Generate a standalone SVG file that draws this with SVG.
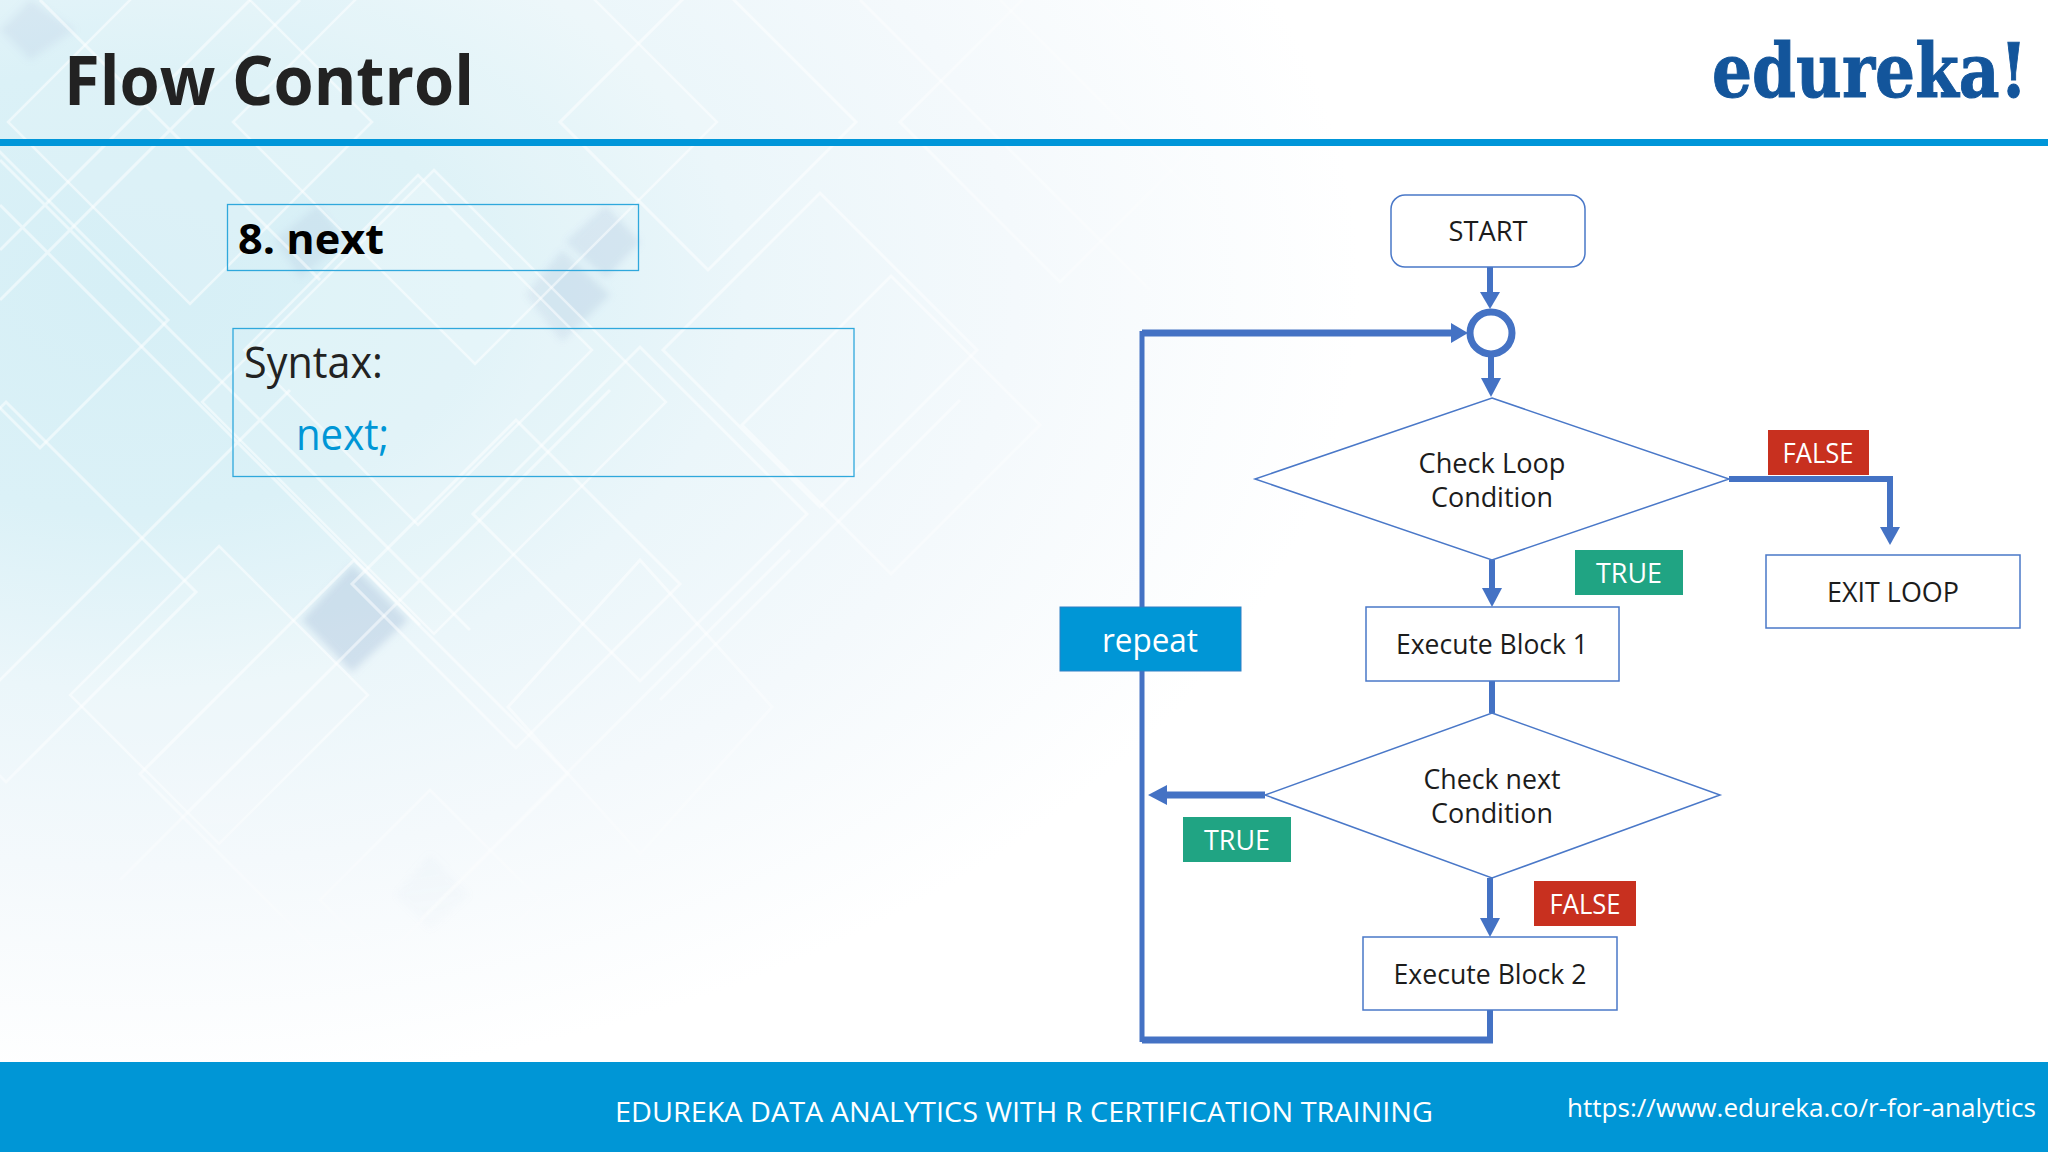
<svg xmlns="http://www.w3.org/2000/svg" width="2048" height="1152" viewBox="0 0 2048 1152">
<style>
text{font-family:"Open Sans","Noto Sans","DejaVu Sans",sans-serif}
.n{fill:#fff;stroke:#4a78c8;stroke-width:1.5}
.t{font-size:27px;fill:#1c1c1c;text-anchor:middle}
.w{font-size:27px;fill:#fff;text-anchor:middle}
.c{fill:none;stroke:#4472c4;stroke-width:6}
.v{fill:none;stroke:#4472c4;stroke-width:5}
.k{fill:none;stroke:#4472c4;stroke-width:7}
.h{fill:#4472c4;stroke:none}
.b{fill:none;stroke:#2fa8dc;stroke-width:1.3}
.d{fill:none;stroke:#fff;stroke-width:3;stroke-opacity:.5}
.e{fill:#fff;fill-opacity:.1;stroke:#fff;stroke-width:2.5;stroke-opacity:.5}
</style>
<defs>
<radialGradient id="bg" gradientUnits="userSpaceOnUse" cx="0" cy="0" r="1" gradientTransform="translate(130 290) scale(1230 800)">
<stop offset="0" stop-color="#d6eff6"/>
<stop offset=".28" stop-color="#dbf1f7"/>
<stop offset=".5" stop-color="#ebf6fa"/>
<stop offset=".72" stop-color="#f4f9fc"/>
<stop offset="1" stop-color="#fff"/>
</radialGradient>
<radialGradient id="fade" gradientUnits="userSpaceOnUse" cx="0" cy="0" r="1" gradientTransform="translate(200 280) scale(1180 760)">
<stop offset="0" stop-color="#fff"/>
<stop offset=".6" stop-color="#fff"/>
<stop offset="1" stop-color="#000"/>
</radialGradient>
<mask id="m"><rect width="2048" height="1152" fill="url(#fade)"/></mask>
<filter id="s" x="-30%" y="-30%" width="160%" height="160%"><feGaussianBlur stdDeviation="3.500"/></filter>
</defs>
<rect width="2048" height="1152" fill="#fff"/>
<rect width="2048" height="1062" fill="url(#bg)"/>
<g id="lattice" mask="url(#m)">
<g filter="url(#s)" fill="#a9c0dc">
<polygon points="352,565 408,620 352,672 302,620" fill-opacity=".42"/>
<polygon points="562,250 610,295 562,342 525,295" fill-opacity=".3"/>
<polygon points="606,205 640,242 606,278 565,242" fill-opacity=".28"/>
<polygon points="318,205 345,240 300,278 275,240" fill-opacity=".22"/>
<polygon points="30,0 75,30 30,60 0,30" fill-opacity=".2"/>
<polygon points="430,855 470,895 430,930 395,895" fill-opacity=".1"/>
</g>
<polygon class="e" points="418,175 592,350 418,525 244,350"/>
<polygon class="e" points="475,-120 717,122 475,364 233,122"/>
<polygon class="e" points="190,-60 372,122 190,304 8,122"/>
<polygon class="d" points="-40,112 168,320 40,448 -168,240"/>
<polygon class="e" points="434,170 666,402 434,634 202,402"/>
<polygon class="d" points="6,402 196,592 6,782 -184,592"/>
<polygon class="e" points="219,546 368,695 219,844 70,695"/>
<polygon class="d" points="354,560 568,774 354,988 140,774"/>
<polygon class="d" points="516,420 680,584 516,748 352,584"/>
<polygon class="d" points="640,560 772,707 640,854 508,707"/>
<polygon class="d" points="807,514 640,347 473,514 640,681"/>
<polygon class="d" points="891,574 1040,425 891,276 742,425"/>
<polygon class="d" points="663,350 820,193 977,350 820,507"/>
<polygon class="d" points="560,122 708,-26 856,122 708,270"/>
<polygon class="d" points="900,122 1060,-38 1220,122 1060,282"/>
<polygon class="d" points="320,900 430,790 540,900 430,1010"/>
<path class="d" d="M0 160 470 630M0 205 420 625M-20 700 290 390M120 880 610 390M420 920 790 550M660 700 960 400M300 0 0 300M250 0 0 250M860 0 1150 290M1000 0 1300 300M40 0 320 280"/>
</g>
<rect id="header-rule" y="139" width="2048" height="7" fill="#0096d9"/>
<rect id="footer-bar" y="1062" width="2048" height="90" fill="#0096d6"/>
<text id="title" x="64" y="105" font-size="68" font-weight="700" fill="#222" textLength="410" lengthAdjust="spacingAndGlyphs">Flow Control</text>
<text id="logo" transform="translate(1712 97) scale(1.05 1.25)" x="0" y="0" font-size="60" font-weight="700" fill="#13559b" stroke="#13559b" stroke-width=".8" style="font-family:'DejaVu Serif',serif">edureka!</text>
<g id="heading-box"><rect class="b" x="227.500" y="204.500" width="411" height="66"/><text x="238" y="254" font-size="41" font-weight="700" fill="#000" textLength="146" lengthAdjust="spacingAndGlyphs">8. next</text></g>
<g id="syntax-box"><rect class="b" x="233" y="328.500" width="621" height="148"/><text x="244" y="378" font-size="44" fill="#222" textLength="139" lengthAdjust="spacingAndGlyphs">Syntax:</text><text x="296" y="450" font-size="44" fill="#0096d6" textLength="93" lengthAdjust="spacingAndGlyphs">next;</text></g>
<g id="connectors">
<path class="c" d="M1490 266V294"/><polygon class="h" points="1480,292 1500,292 1490,309"/>
<path class="c" d="M1491 357V380"/><polygon class="h" points="1481,378 1501,378 1491,397"/>
<path class="c" d="M1729 479H1890V529"/><polygon class="h" points="1880,527 1900,527 1890,545"/>
<path class="c" d="M1492 560V590"/><polygon class="h" points="1482,588 1502,588 1492,607"/>
<path class="c" d="M1492 681V713"/>
<path class="k" d="M1265 795H1165"/><polygon class="h" points="1167,785 1167,805 1148,795"/>
<path class="c" d="M1490 878V920"/><polygon class="h" points="1480,918 1500,918 1490,937"/>
<path class="c" d="M1490 1010V1040"/>
<path class="k" d="M1493 1040H1142"/>
<path class="v" d="M1142 1042V331"/>
<path class="k" d="M1142 333H1453"/><polygon class="h" points="1451,323 1451,343 1468,333"/>
</g>
<g id="start"><rect class="n" x="1391" y="195" width="194" height="72" rx="14"/><text class="t" x="1488" y="241" textLength="79" lengthAdjust="spacingAndGlyphs">START</text></g>
<g id="merge"><circle cx="1491" cy="333" r="21" fill="#fff" stroke="#4472c4" stroke-width="7"/></g>
<g id="check-loop"><polygon class="n" points="1492,398 1729,479 1492,560 1255,479"/><text class="t" x="1492" y="473" textLength="147" lengthAdjust="spacingAndGlyphs">Check Loop</text><text class="t" x="1492" y="507" textLength="122" lengthAdjust="spacingAndGlyphs">Condition</text></g>
<g id="false-1"><rect x="1768" y="430" width="101" height="45" fill="#c8301f"/><text class="w" x="1818" y="463" textLength="71" lengthAdjust="spacingAndGlyphs">FALSE</text></g>
<g id="true-1"><rect x="1575" y="550" width="108" height="45" fill="#20a483"/><text class="w" x="1629" y="583" textLength="66" lengthAdjust="spacingAndGlyphs">TRUE</text></g>
<g id="exit-loop"><rect class="n" x="1766" y="555" width="254" height="73"/><text class="t" x="1893" y="602" textLength="132" lengthAdjust="spacingAndGlyphs">EXIT LOOP</text></g>
<g id="execute-1"><rect class="n" x="1366" y="607" width="253" height="74"/><text class="t" x="1492" y="654" textLength="192" lengthAdjust="spacingAndGlyphs">Execute Block 1</text></g>
<g id="repeat"><rect x="1060" y="607" width="181" height="64" fill="#0096d6" stroke="#2f7fc4" stroke-width="1"/><text x="1150" y="652" font-size="33" fill="#fff" text-anchor="middle" textLength="96" lengthAdjust="spacingAndGlyphs">repeat</text></g>
<g id="check-next"><polygon class="n" points="1492,713 1720,795 1492,878 1265,795"/><text class="t" x="1492" y="789" textLength="137" lengthAdjust="spacingAndGlyphs">Check next</text><text class="t" x="1492" y="823" textLength="122" lengthAdjust="spacingAndGlyphs">Condition</text></g>
<g id="true-2"><rect x="1183" y="817" width="108" height="45" fill="#20a483"/><text class="w" x="1237" y="850" textLength="66" lengthAdjust="spacingAndGlyphs">TRUE</text></g>
<g id="false-2"><rect x="1534" y="881" width="102" height="45" fill="#c8301f"/><text class="w" x="1585" y="914" textLength="71" lengthAdjust="spacingAndGlyphs">FALSE</text></g>
<g id="execute-2"><rect class="n" x="1363" y="937" width="254" height="73"/><text class="t" x="1490" y="984" textLength="193" lengthAdjust="spacingAndGlyphs">Execute Block 2</text></g>
<text id="footer-title" x="615" y="1122" font-size="28" fill="#fff" textLength="818" lengthAdjust="spacingAndGlyphs">EDUREKA DATA ANALYTICS WITH R CERTIFICATION TRAINING</text>
<text id="footer-url" x="1567" y="1117" font-size="26" fill="#fff" textLength="469" lengthAdjust="spacingAndGlyphs">https://www.edureka.co/r-for-analytics</text>
</svg>
